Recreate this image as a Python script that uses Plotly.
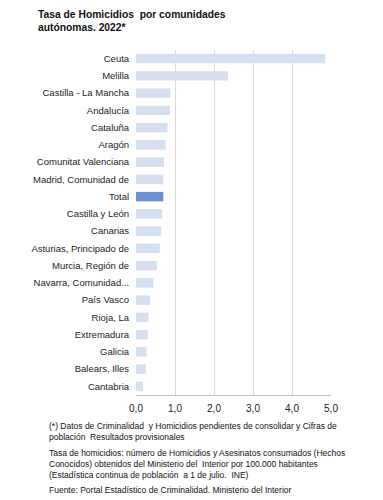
import plotly.graph_objects as go

categories = ["Ceuta", "Melilla", "Castilla - La Mancha", "Andalucía", "Cataluña", "Aragón",
              "Comunitat Valenciana", "Madrid, Comunidad de", "Total", "Castilla y León", "Canarias",
              "Asturias, Principado de", "Murcia, Región de", "Navarra, Comunidad...", "País Vasco",
              "Rioja, La", "Extremadura", "Galicia", "Balears, Illes", "Cantabria"]
values = [4.85, 2.36, 0.88, 0.87, 0.81, 0.76, 0.72, 0.70, 0.70, 0.67, 0.65, 0.61, 0.54, 0.45,
          0.36, 0.32, 0.30, 0.27, 0.25, 0.18]
tick_vals = [0, 1, 2, 3, 4, 5]
tick_text = ["0,0", "1,0", "2,0", "3,0", "4,0", "5,0"]

title_text = "Tasa de Homicidios  por comunidades<br>autónomas. 2022*"
notes = [
    "(*) Datos de Criminalidad  y Homicidios pendientes de consolidar y Cifras de<br>"
    "población  Resultados provisionales",
    "Tasa de homicidios: número de Homicidios y Asesinatos consumados (Hechos<br>"
    "Conocidos) obtenidos del Ministerio del  Interior por 100.000 habitantes<br>"
    "(Estadística continua de población  a 1 de julio.  INE)",
    "Fuente: Portal Estadístico de Criminalidad. Ministerio del Interior",
]

colors = ["#6d8fd0" if c == "Total" else "#d6dff0" for c in categories]

fig = go.Figure(go.Bar(
    x=values, y=categories, orientation="h",
    marker=dict(color=colors, line=dict(width=0)),
    hoverinfo="x+y",
))

font = "Liberation Sans, Arial, sans-serif"
# page body has an 8px margin, so the figure is 8px smaller and offset
fig.update_layout(
    width=375, height=492,
    margin=dict(l=128, r=52, t=42, b=105),
    paper_bgcolor="white", plot_bgcolor="white",
    bargap=0.45,
    showlegend=False,
    font=dict(family=font, size=9, color="#222"),
    xaxis=dict(range=[0, 5], tickvals=tick_vals, ticktext=tick_text,
               showgrid=True, gridcolor="#d9d9d9", gridwidth=1,
               zeroline=False, showline=True, linecolor="#bfbfbf",
               ticks="outside", ticklen=4, tickcolor="rgba(0,0,0,0)",
               tickfont=dict(size=10, color="#222"), fixedrange=True, automargin=False),
    yaxis=dict(autorange="reversed", showgrid=False, zeroline=False,
               ticks="outside", ticklen=4, tickcolor="rgba(0,0,0,0)",
               showline=False, tickfont=dict(size=9.5, color="#222"), fixedrange=True,
               automargin=False),
)

fig.add_annotation(text="<b>" + title_text + "</b>", xref="paper", yref="paper",
                   x=-0.513, y=1.0, yshift=29,
                   xanchor="left", yanchor="middle", align="left", showarrow=False,
                   font=dict(family=font, size=10.3, color="#111"))

for txt, ys in zip(notes, [-36.7, -68.7, -95]):
    fig.add_annotation(text=txt, xref="paper", yref="paper", x=-0.455, y=0, yshift=ys,
                       xanchor="left", yanchor="middle", align="left", showarrow=False,
                       font=dict(family=font, size=8.5, color="#111"))

fig.write_html("out.html")
